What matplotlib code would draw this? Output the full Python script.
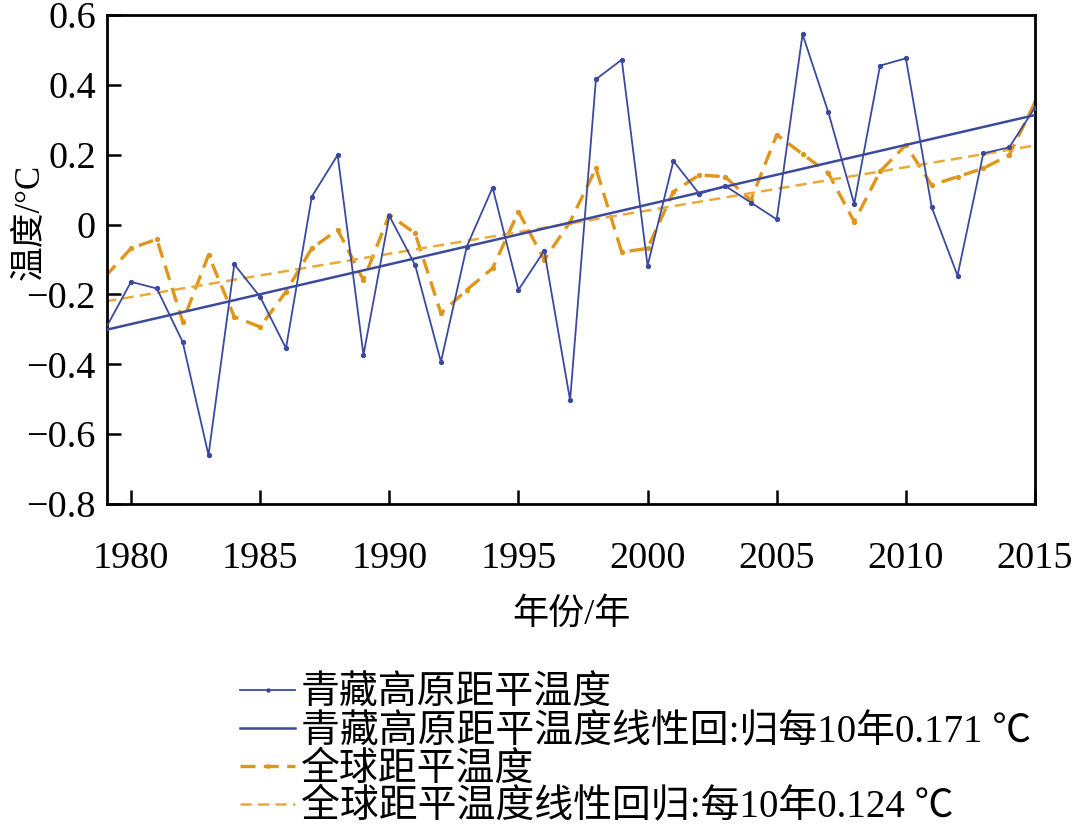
import matplotlib

matplotlib.use("Agg")
import matplotlib.pyplot as plt
import numpy as np
from matplotlib.ticker import FuncFormatter, MultipleLocator

plt.rcParams["font.family"] = ["Liberation Serif", "Noto Sans CJK SC"]

# years 1979-2015
years = np.arange(1979, 2016)

# Tibetan Plateau temperature anomaly
tp_anom = [
    -0.30, -0.164, -0.183, -0.336, -0.660, -0.114, -0.207, -0.354, 0.080, 0.199,
    -0.373, 0.025, -0.116, -0.393, -0.063, 0.106, -0.187, -0.075, -0.503, 0.416,
    0.472, -0.118, 0.182, 0.088, 0.111, 0.063, 0.015, 0.545, 0.321, 0.059,
    0.455, 0.476, 0.050, -0.146, 0.204, 0.221, 0.335,
]

# global temperature anomaly
gl_anom = [
    -0.149, -0.068, -0.042, -0.278, -0.087, -0.264, -0.293, -0.192, -0.068, -0.015,
    -0.159, 0.028, -0.025, -0.254, -0.187, -0.125, 0.037, -0.101, 0.008, 0.161,
    -0.079, -0.068, 0.094, 0.142, 0.137, 0.070, 0.257, 0.202, 0.147, 0.008,
    0.152, 0.228, 0.113, 0.137, 0.161, 0.199, 0.350,
]

# linear trends: value at 1979 and slope per decade (legend)
tp_trend_start, tp_trend_slope = -0.302, 0.171
gl_trend_start, gl_trend_slope = -0.220, 0.124

labels = [
    "青藏高原距平温度",
    "青藏高原距平温度线性回:归每10年0.171 ℃",
    "全球距平温度",
    "全球距平温度线性回归:每10年0.124 ℃",
]

c_tp = "#3b4a9c"
c_gl = "#e0961a"
c_gl_fit = "#eaa93a"

fig = plt.figure(figsize=(10.8, 8.32), dpi=100)
ax = fig.add_axes([107 / 1080, 1 - 504 / 832, 928 / 1080, 489 / 832])

dy = years - years[0]
tp_fit = tp_trend_start + tp_trend_slope / 10 * dy
gl_fit = gl_trend_start + gl_trend_slope / 10 * dy

l1, = ax.plot(years, tp_anom, color=c_tp, lw=1.3, marker="o", ms=2.8, zorder=4)
l2, = ax.plot(years, tp_fit, color=c_tp, lw=1.8, zorder=3)
l3, = ax.plot(years, gl_anom, color=c_gl, lw=2.4, ls=(0, (4.5, 2.5)), marker="o", ms=2.8, zorder=2)
l4, = ax.plot(years, gl_fit, color=c_gl_fit, lw=1.8, ls=(0, (4.5, 2.5)), zorder=2)

ax.set_xlim(1979.07, 2015)
ax.set_ylim(-0.8, 0.6)
ax.xaxis.set_major_locator(MultipleLocator(5))
ax.yaxis.set_major_locator(MultipleLocator(0.2))
ax.yaxis.set_major_formatter(
    FuncFormatter(lambda v, p: "0" if abs(v) < 1e-9 else f"{v:.1f}".replace("-", "\u2212"))
)

for s in ax.spines.values():
    s.set_linewidth(2)
ax.tick_params(direction="in", length=10, width=1.8, labelsize=27.5, top=False, right=False)
ax.tick_params(axis="x", pad=27)
ax.tick_params(axis="y", pad=8)

ax.set_xlabel("年份/年", fontsize=26, labelpad=16)
ax.set_ylabel("温度/°C", fontsize=25)
ax.yaxis.set_label_coords(-0.066, 0.577)

fig.legend(
    [l1, l2, l3, l4], labels,
    loc="upper left", bbox_to_anchor=(240 / 1080, 1 - 676 / 832),
    frameon=False, fontsize=28, handlelength=1.42, handletextpad=0.15,
    labelspacing=0.02, borderaxespad=0, borderpad=0, markerscale=0.8,
)

fig.savefig("out.png", dpi=100)
